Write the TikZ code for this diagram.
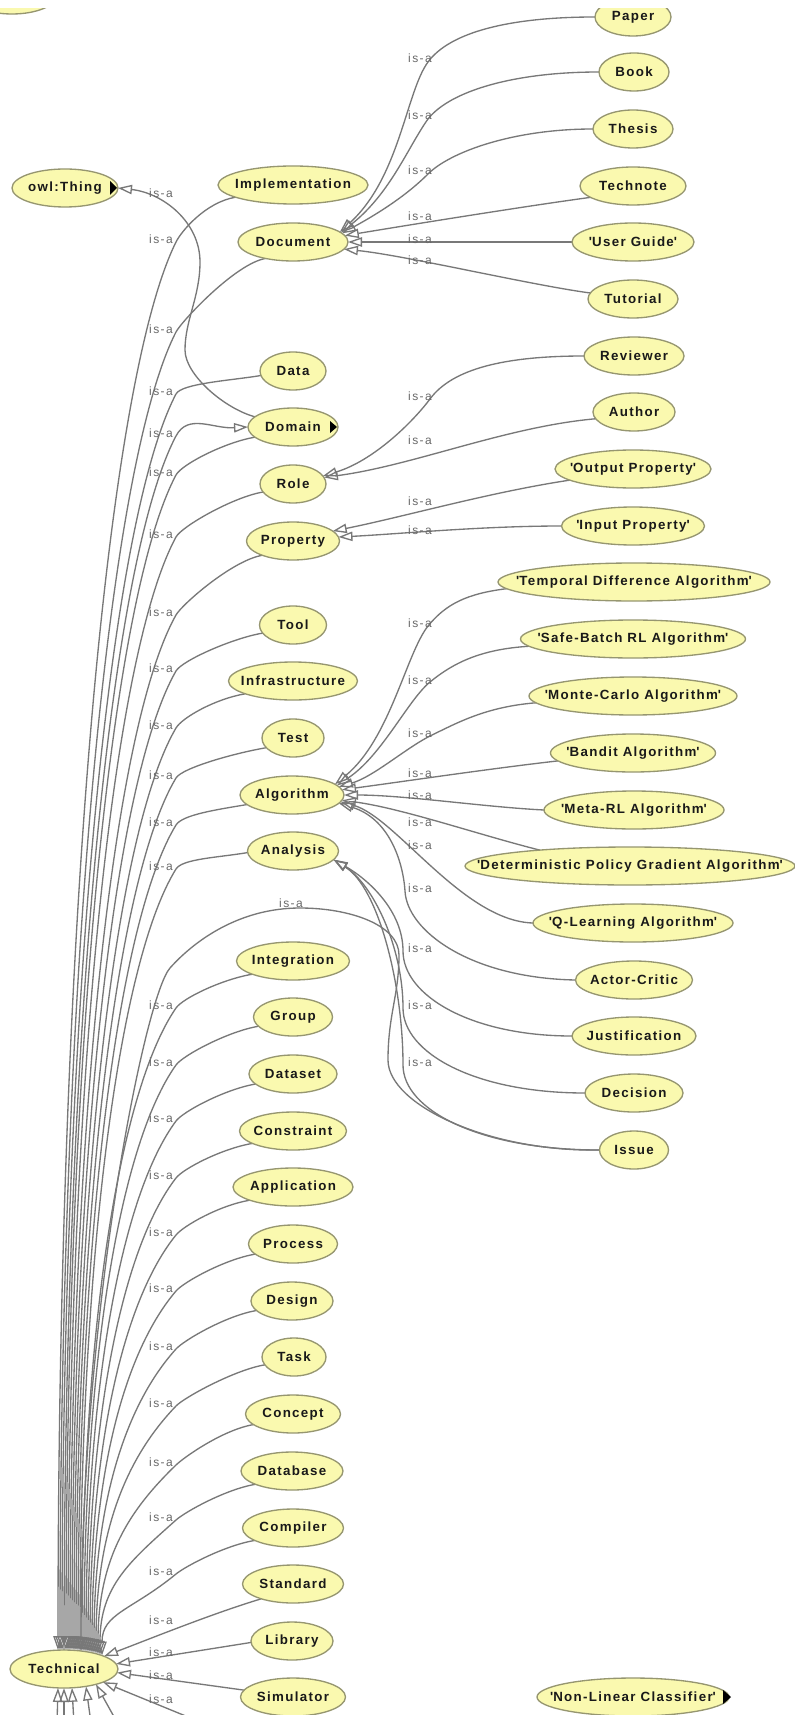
\documentclass[tikz,border=0pt]{standalone}
\usepackage{fontspec}
\usetikzlibrary{shapes.geometric,arrows.meta,calc,backgrounds}
\newfontfamily\clsfont{Liberation Sans}[LetterSpace=10]
\newfontfamily\lblfont{Liberation Sans}[LetterSpace=12]
\definecolor{clsfill}{RGB}{250,249,175}
\definecolor{clsdraw}{RGB}{150,150,112}
\definecolor{edgegray}{RGB}{120,120,120}
\definecolor{lblgray}{RGB}{105,105,105}
\definecolor{clstext}{RGB}{25,25,25}
\newcommand\clsname[1]{\makebox[0pt]{#1}}
\newcommand\sq{\textquotesingle}

\begin{document}
\begin{tikzpicture}[x=0.75pt,y=-0.75pt,
  cls/.style={ellipse, draw=clsdraw, line width=1pt, fill=clsfill,
    minimum height=28.5pt, inner sep=0pt, outer sep=0pt, text=clstext,
    font=\clsfont\bfseries\fontsize{10}{12}\selectfont},
  wd/.style={minimum width={#1*0.75pt}},
  isa/.style={draw=edgegray, line width=1pt,
    -{Triangle[open, length=10.5pt, width=7pt]}},
  plain/.style={draw=edgegray, line width=1pt},
  lbl/.style={text=lblgray, inner sep=0pt,
    font=\lblfont\fontsize{9}{11}\selectfont},
  collapsed/.style={fill=black}]
\useasboundingbox (0,0) rectangle (795,1715);

% ---------- classes ----------
\node[cls,wd=90]  (topcls)   at (12,-5)    {};
\node[cls,wd=106] (thing)    at (65,188)   {\clsname{owl:Thing}};
\node[cls,wd=150] (impl)     at (293,185)  {\clsname{Implementation}};
\node[cls,wd=110] (doc)      at (293,242)  {\clsname{Document}};
\node[cls,wd=76]  (paper)    at (633,17)   {\clsname{Paper}};
\node[cls,wd=70]  (book)     at (634,72)   {\clsname{Book}};
\node[cls,wd=80]  (thesis)   at (633,129)  {\clsname{Thesis}};
\node[cls,wd=106] (technote) at (633,186)  {\clsname{Technote}};
\node[cls,wd=122] (guide)    at (633,242)  {\clsname{\sq User Guide\sq}};
\node[cls,wd=90]  (tutorial) at (633,299)  {\clsname{Tutorial}};
\node[cls,wd=66]  (data)     at (293,371)  {\clsname{Data}};
\node[cls,wd=90]  (dom)      at (293,427)  {\clsname{Domain}};
\node[cls,wd=66]  (role)     at (293,484)  {\clsname{Role}};
\node[cls,wd=93]  (prop)     at (293,541)  {\clsname{Property}};
\node[cls,wd=100] (reviewer) at (634,356)  {\clsname{Reviewer}};
\node[cls,wd=82]  (author)   at (634,412)  {\clsname{Author}};
\node[cls,wd=156] (outp)     at (633,469)  {\clsname{\sq Output Property\sq}};
\node[cls,wd=143] (inp)      at (633,526)  {\clsname{\sq Input Property\sq}};
\node[cls,wd=67]  (tool)     at (293,625)  {\clsname{Tool}};
\node[cls,wd=129] (infra)    at (293,681)  {\clsname{Infrastructure}};
\node[cls,wd=62]  (test)     at (293,738)  {\clsname{Test}};
\node[cls,wd=104] (algo)     at (292,795)  {\clsname{Algorithm}};
\node[cls,wd=91]  (anal)     at (293,851)  {\clsname{Analysis}};
\node[cls,wd=272] (td)       at (634,582)  {\clsname{\sq Temporal Difference Algorithm\sq}};
\node[cls,wd=225] (sb)       at (633,639)  {\clsname{\sq Safe-Batch RL Algorithm\sq}};
\node[cls,wd=208] (mc)       at (633,696)  {\clsname{\sq Monte-Carlo Algorithm\sq}};
\node[cls,wd=165] (bandit)   at (633,753)  {\clsname{\sq Bandit Algorithm\sq}};
\node[cls,wd=180] (meta)     at (634,810)  {\clsname{\sq Meta-RL Algorithm\sq}};
\node[cls,wd=330] (dpg)      at (630,866)  {\clsname{\sq Deterministic Policy Gradient Algorithm\sq}};
\node[cls,wd=200] (ql)       at (633,923)  {\clsname{\sq Q-Learning Algorithm\sq}};
\node[cls,wd=117] (ac)       at (634,980)  {\clsname{Actor-Critic}};
\node[cls,wd=124] (just)     at (634,1036) {\clsname{Justification}};
\node[cls,wd=98]  (dec)      at (634,1093) {\clsname{Decision}};
\node[cls,wd=69]  (issue)    at (634,1150) {\clsname{Issue}};
\node[cls,wd=113] (integ)    at (293,961)  {\clsname{Integration}};
\node[cls,wd=79]  (group)    at (293,1017) {\clsname{Group}};
\node[cls,wd=88]  (dataset)  at (293,1074) {\clsname{Dataset}};
\node[cls,wd=107] (constr)   at (293,1131) {\clsname{Constraint}};
\node[cls,wd=120] (appl)     at (293,1187) {\clsname{Application}};
\node[cls,wd=89]  (process)  at (293,1244) {\clsname{Process}};
\node[cls,wd=82]  (design)   at (292,1301) {\clsname{Design}};
\node[cls,wd=64]  (task)     at (294,1357) {\clsname{Task}};
\node[cls,wd=95]  (concept)  at (293,1414) {\clsname{Concept}};
\node[cls,wd=102] (database) at (292,1471) {\clsname{Database}};
\node[cls,wd=101] (compiler) at (293,1528) {\clsname{Compiler}};
\node[cls,wd=101] (standard) at (293,1584) {\clsname{Standard}};
\node[cls,wd=82]  (library)  at (292,1641) {\clsname{Library}};
\node[cls,wd=105] (sim)      at (293,1697) {\clsname{Simulator}};
\node[cls,wd=108] (tech)     at (64,1669)  {\clsname{Technical}};
\node[cls,wd=192] (nlc)      at (633,1697) {\clsname{\sq Non-Linear Classifier\sq}};

% markers of collapsed classes
\fill[collapsed] ($(thing.east)+(-8,-7)$) -- ($(thing.east)+(-1,0)$) -- ($(thing.east)+(-8,7)$) -- cycle;
\fill[collapsed] ($(dom.east)+(-8,-6)$) -- ($(dom.east)+(-1,0)$) -- ($(dom.east)+(-8,6)$) -- cycle;
\fill[collapsed] ($(nlc.east)+(-6,-7)$) -- ($(nlc.east)+(2,0)$) -- ($(nlc.east)+(-6,7)$) -- cycle;

% free ends of edges leaving the view
\coordinate (bA) at (56,1760);
\coordinate (bB) at (64,1760);
\coordinate (bC) at (76,1760);
\coordinate (bD) at (94,1745);
\coordinate (bE) at (128,1742);
\coordinate (bF) at (215,1728);
\coordinate (nlcout) at (470,1748);

\begin{pgfonlayer}{background}
\fill[white] (0,0) rectangle (795,1715);

% Document subclasses
\draw[isa] (paper.west) .. controls +(-85,0) and +(22,-30) .. (428,62) .. controls +(-22,30) and +(60,-55) .. (doc.12);
\draw[isa] (book.west) .. controls +(-85,0) and +(22,-28) .. (428,119) .. controls +(-20,28) and +(50,-40) .. (doc.11);
\draw[isa] (thesis.west) .. controls +(-80,0) and +(22,-22) .. (428,174) .. controls +(-20,20) and +(40,-22) .. (doc.10);
\draw[isa] (technote.195) .. controls +(-60,8) and +(60,-10) .. (doc.7);
\draw[isa] (guide.west) -- (doc.east);
\draw[isa] (tutorial.172) .. controls +(-60,-8) and +(60,6) .. (doc.-8);

% Role and Property subclasses
\draw[isa] (reviewer.west) .. controls +(-80,0) and +(22,-30) .. (430,399) .. controls +(-18,24) and +(50,-15) .. (role.15);
\draw[isa] (author.190) .. controls +(-90,8) and +(90,-12) .. (role.12);
\draw[isa] (outp.190) .. controls +(-80,12) and +(70,-14) .. (prop.14);
\draw[isa] (inp.west) .. controls +(-80,0) and +(60,-3) .. (prop.5);

% Algorithm subclasses
\draw[isa] (td.183) .. controls +(-40,5) and +(18,-22) .. (428,626) .. controls +(-22,28) and +(55,-45) .. (algo.14);
\draw[isa] (sb.184) .. controls +(-50,3) and +(22,-18) .. (430,682) .. controls +(-22,18) and +(45,-30) .. (algo.12);
\draw[isa] (mc.184) .. controls +(-50,4) and +(25,-12) .. (432,735) .. controls +(-25,12) and +(35,-10) .. (algo.10);
\draw[isa] (bandit.186) .. controls +(-70,8) and +(60,-8) .. (algo.6);
\draw[isa] (meta.west) .. controls +(-60,-3) and +(60,0) .. (algo.east);
\draw[isa] (dpg.170) .. controls +(-60,-15) and +(60,8) .. (algo.-6);
\draw[isa] (ql.west) .. controls +(-70,-2) and +(55,15) .. (algo.-8);
\draw[isa] (ac.west) .. controls +(-105,-2) and +(2,40) .. (405,891) .. controls +(-2,-30) and +(50,15) .. (algo.-10);

% Analysis subclasses
\draw[isa] (just.west) .. controls +(-100,0) and +(0,45) .. (403,951) .. controls +(0,-40) and +(35,20) .. (anal.-12);
\draw[isa] (dec.west) .. controls +(-110,0) and +(0,45) .. (403,1008) .. controls +(0,-60) and +(40,25) .. (anal.-12);
\draw[isa] (issue.west) .. controls +(-120,0) and +(0,45) .. (403,1065) .. controls +(0,-80) and +(45,28) .. (anal.-12);

% Domain is-a owl:Thing
\draw[isa] (dom.165) .. controls +(-30,-8) and +(0,25) .. (185,350) .. controls +(0,-30) and +(0,35) .. (200,262) .. controls +(0,-40) and +(45,5) .. (thing.east);

% Technical is-a Domain
\draw[isa] ($(tech)+(0,-19)$) .. controls +(0,-608) and +(-67,127) .. (176,436) .. controls +(12,-23) and +(-35,2) .. (dom.west);

% subclasses of Technical, bundled on the left
\foreach \cn/\an/\lyv/\exv in {impl/192/239/58, doc/211/329/60, data/188/391/62,
    dom/195/472/66, role/195/534/68, prop/205/612/70, tool/195/668/72,
    infra/195/725/74, test/200/775/76, algo/192/822/78, anal/182/866/80,
    integ/198/1005/82, group/195/1062/84, dataset/195/1118/86,
    constr/197/1175/88, appl/197/1232/90, process/195/1288/92,
    design/195/1346/94, task/195/1403/96, concept/195/1462/98,
    database/200/1517/100, compiler/198/1571/102}{
  \pgfmathsetmacro\eux{-0.6*(176-\exv)}
  \pgfmathsetmacro\euy{0.08*(1652-\lyv)+30}
  \pgfmathsetmacro\eul{veclen(\eux,\euy)}
  \pgfmathsetmacro\ebx{-12*\eux/\eul}
  \pgfmathsetmacro\eby{-12*\euy/\eul}
  \pgfmathsetmacro\eqx{\exv-64}
  \pgfmathsetmacro\eqy{-19*sqrt(1-(\eqx/54)^2)}
  \pgfmathsetmacro\evv{-0.5*(1669+\eqy-\lyv)}
  \draw[isa] (\cn.\an) .. controls +(-30,5) and +(\ebx,\eby) .. (176,{\lyv+3})
     .. controls +(\eux,\euy) and +(0,\evv) .. ($(tech)+(\eqx,\eqy)$);
  \node[lbl] at (161,\lyv) {is-a};
}

% Issue is-a Technical, arching over Integration
\draw[isa] (issue.west) .. controls +(-110,2) and +(0,45) .. (388,1060)
   .. controls +(0,-45) and +(0,40) .. (399,955)
   .. controls +(0,-30) and +(50,0) .. (300,908)
   .. controls +(-60,0) and +(25,-28) .. (170,968)
   .. controls +(-25,28) and +(0,-340) .. ($(tech)+(17,-18)$);

% near edges of Technical
\draw[isa] (standard.205) .. controls +(-50,15) and +(40,-15) .. ($(tech)+(40,-12.8)$);
\draw[isa] (library.182) -- ($(tech)+(52,-5.1)$);
\draw[isa] (sim.172) -- ($(tech)+(53,3.6)$);
\draw[isa] (bA) -- ($(tech)+(-6,18.9)$);
\draw[isa] (bB) -- ($(tech)+(0,19)$);
\draw[isa] (bC) -- ($(tech)+(8,18.8)$);
\draw[isa] (bD) -- ($(tech)+(22,17.4)$);
\draw[isa] (bE) -- ($(tech)+(32,15.3)$);
\draw[isa] (bF) -- ($(tech)+(39,13.1)$);
\draw[plain] (nlc.205) .. controls +(-30,8) and +(30,-15) .. (nlcout);

% edge labels
\foreach \lx/\lyv in {420/58, 420/115, 420/170, 420/216, 420/239, 420/260,
    420/396, 420/440, 420/501, 420/530, 420/623, 420/680, 420/733, 420/773,
    420/795, 420/822, 420/845, 420/888, 420/948, 420/1005, 420/1062,
    161/193, 161/433, 291/903, 161/1620, 161/1652, 161/1675, 161/1699}
  \node[lbl] at (\lx,\lyv) {is-a};
\end{pgfonlayer}

% top strip of the canvas
\fill[white] (0,0) rectangle (795,8);
\end{tikzpicture}
\end{document}
